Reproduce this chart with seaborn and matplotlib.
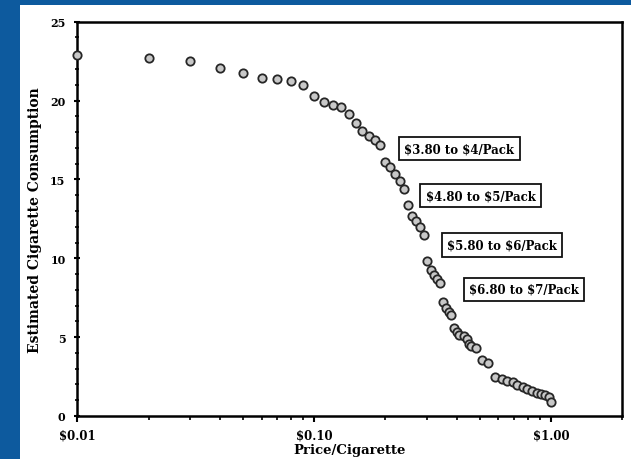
import matplotlib
matplotlib.use("Agg")
import matplotlib.pyplot as plt
import matplotlib.ticker as mticker
from matplotlib.patches import Rectangle
import seaborn as sns
import pandas as pd

price = [0.01, 0.02, 0.03, 0.04, 0.05, 0.06, 0.07, 0.08, 0.09, 0.10,
         0.11, 0.12, 0.13, 0.14, 0.15, 0.16, 0.17, 0.18, 0.19, 0.20,
         0.21, 0.22, 0.23, 0.24, 0.25, 0.26, 0.27, 0.28, 0.29, 0.30,
         0.31, 0.32, 0.33, 0.34, 0.35, 0.36, 0.37, 0.38, 0.39, 0.40,
         0.41, 0.43, 0.44, 0.45, 0.46, 0.48, 0.51, 0.54, 0.58, 0.62,
         0.65, 0.69, 0.72, 0.76, 0.79, 0.83, 0.87, 0.91, 0.94, 0.98, 1.00]
consumption = [22.89, 22.70, 22.51, 22.07, 21.75, 21.43, 21.37, 21.24, 20.99, 20.29,
               19.91, 19.72, 19.59, 19.15, 18.58, 18.08, 17.76, 17.50, 17.19, 16.11,
               15.79, 15.35, 14.90, 14.39, 13.38, 12.68, 12.37, 11.98, 11.48, 9.83,
               9.26, 8.94, 8.69, 8.43, 7.23, 6.85, 6.60, 6.40, 5.58, 5.33,
               5.14, 5.07, 4.88, 4.57, 4.44, 4.31, 3.55, 3.36, 2.47, 2.35,
               2.22, 2.16, 1.97, 1.84, 1.71, 1.59, 1.46, 1.40, 1.33, 1.20, 0.89]

x_ticks = [0.01, 0.10, 1.00]
x_tick_labels = ["$0.01", "$0.10", "$1.00"]
y_ticks = [0, 5, 10, 15, 20, 25]
annotations = ["$3.80 to $4/Pack", "$4.80 to $5/Pack", "$5.80 to $6/Pack", "$6.80 to $7/Pack"]

df = pd.DataFrame({"price": price, "consumption": consumption})

sns.set_style("white")
plt.rcParams["font.family"] = ["DejaVu Serif"]
plt.rcParams["text.color"] = "black"
plt.rcParams["axes.labelcolor"] = "black"
plt.rcParams["xtick.color"] = "black"
plt.rcParams["ytick.color"] = "black"

fig = plt.figure(figsize=(6.31, 4.60), dpi=100)
fig.patch.set_facecolor("#0D5A9E")
fig.patches.append(Rectangle((20 / 631, 0), 1 - 20 / 631, 1 - 6 / 460,
                             transform=fig.transFigure, facecolor="white",
                             edgecolor="none", zorder=-10))

ax = fig.add_axes([77.3 / 631, 43 / 460, 545 / 631, 394.3 / 460])
ax.set_zorder(1)
ax.set_facecolor("white")

sns.scatterplot(data=df, x="price", y="consumption", ax=ax, s=36,
                color="#c8c8c8", edgecolor="#262626", linewidth=1.3, zorder=3,
                clip_on=False)

ax.set_xscale("log")
ax.set_xlim(0.01, 2.0)
ax.set_ylim(0, 25)
ax.set_xticks(x_ticks)
ax.set_xticklabels(x_tick_labels)
ax.xaxis.set_minor_locator(mticker.LogLocator(base=10, subs=range(2, 10)))
ax.xaxis.set_minor_formatter(mticker.NullFormatter())
ax.set_yticks(y_ticks)
ax.yaxis.set_minor_locator(mticker.MultipleLocator(1))

for s in ax.spines.values():
    s.set_visible(True)
    s.set_color("black")
    s.set_linewidth(1.8)

ax.tick_params(axis="x", which="major", direction="out", length=4, width=1.5,
               labelsize=8.5, pad=5, colors="black")
ax.tick_params(axis="x", which="minor", direction="out", length=3, width=1.2, colors="black")
ax.tick_params(axis="y", which="major", direction="inout", length=5, width=1.5,
               labelsize=8, pad=6, colors="black")
ax.tick_params(axis="y", which="minor", direction="inout", length=3, width=1.2, colors="black")
ax.tick_params(axis="both", which="both", bottom=True, left=True, top=False, right=False)
for lbl in ax.get_xticklabels() + ax.get_yticklabels():
    lbl.set_fontweight("bold")

ax.set_xlabel("Price/Cigarette", fontsize=9.5, fontweight="bold", labelpad=1, color="black")
ax.set_ylabel("Estimated Cigarette Consumption", fontsize=10, fontweight="bold", labelpad=6,
              color="black")

box_pos = [(0.701, 0.678), (0.740, 0.559), (0.779, 0.434), (0.820, 0.321)]
for txt, (bx, by) in zip(annotations, box_pos):
    ax.text(bx, by, txt, transform=ax.transAxes, ha="center", va="center",
            fontsize=8.5, fontweight="bold", zorder=5, parse_math=False, color="black",
            bbox=dict(boxstyle="square,pad=0.45", facecolor="white",
                      edgecolor="#111111", linewidth=1.3))

fig.savefig("out.png", dpi=100, facecolor=fig.get_facecolor())
